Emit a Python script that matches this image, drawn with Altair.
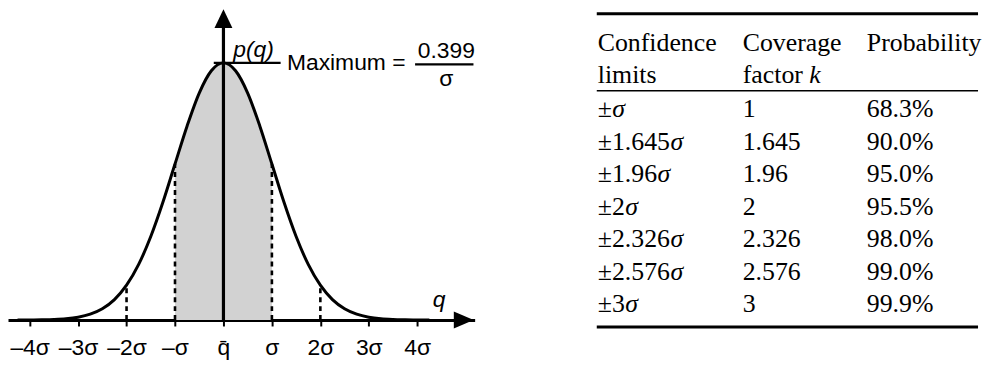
import altair as alt
import pandas as pd

# ---------------- data ----------------
q_pts = [-4.25, -4.0, -3.75, -3.5, -3.25, -3.0, -2.75, -2.5, -2.25, -2.0, -1.75, -1.5,
         -1.25, -1.0, -0.75, -0.5, -0.25, 0.0, 0.25, 0.5, 0.75, 1.0, 1.25, 1.5, 1.75,
         2.0, 2.25, 2.5, 2.75, 3.0, 3.25, 3.5, 3.75, 4.0, 4.25]
p_pts = [0.0000, 0.0001, 0.0004, 0.0009, 0.0020, 0.0044, 0.0091, 0.0175, 0.0317, 0.0540,
         0.0863, 0.1295, 0.1826, 0.2420, 0.3011, 0.3521, 0.3867, 0.3989, 0.3867, 0.3521,
         0.3011, 0.2420, 0.1826, 0.1295, 0.0863, 0.0540, 0.0317, 0.0175, 0.0091, 0.0044,
         0.0020, 0.0009, 0.0004, 0.0001, 0.0000]
tick_pos = [-4, -3, -2, -1, 0, 1, 2, 3, 4]
tick_labels = ["\u20134\u03c3", "\u20133\u03c3", "\u20132\u03c3", "\u2013\u03c3", "q\u0304",
               "\u03c3", "2\u03c3", "3\u03c3", "4\u03c3"]
dash_pos = [-2, -1, 1, 2]
dash_top = [0.0540, 0.2420, 0.2420, 0.0540]
shade_lo, shade_hi = -1, 1
p_max = 0.399

limits_num = ["\u00b1", "\u00b11.645", "\u00b11.96", "\u00b12", "\u00b12.326", "\u00b12.576", "\u00b13"]
coverage = ["1", "1.645", "1.96", "2", "2.326", "2.576", "3"]
probability = ["68.3%", "90.0%", "95.0%", "95.5%", "98.0%", "99.0%", "99.9%"]
headers = ["Confidence\nlimits", "Coverage\nfactor", "Probability"]

# ---------------- layout ----------------
W1, H1 = 470, 313
PX_SIG = 48.8
ORIGIN = 217
PX_P = 649.3
x_dom = [-ORIGIN / PX_SIG, (W1 - ORIGIN) / PX_SIG]
y_top = H1 / PX_P
y_dom = [0, y_top]

SANS = "Liberation Sans"
SERIF = "Liberation Serif"
FS = 23

xs = alt.Scale(domain=x_dom, nice=False, zero=False)
ys = alt.Scale(domain=y_dom, nice=False, zero=False)

label_expr = "[%s][indexof([%s], datum.value)]" % (
    ",".join("'%s'" % t for t in tick_labels), ",".join(str(v) for v in tick_pos))
x_axis = alt.Axis(values=tick_pos, labelExpr=label_expr, title=None, grid=False,
                  domainColor="black", domainWidth=3.2, tickColor="black", tickWidth=2,
                  tickSize=6, labelFont=SANS, labelFontSize=FS, labelColor="black",
                  labelPadding=11, labelFlush=False, labelOverlap=False)


def X(field="q"):
    return alt.X(f"{field}:Q", scale=xs, axis=x_axis, title=None)


def Y(field="p"):
    return alt.Y(f"{field}:Q", scale=ys, axis=None, title=None)


curve_df = pd.DataFrame({"q": q_pts, "p": p_pts})

shade = alt.Chart(curve_df).mark_area(interpolate="monotone", color="#d2d2d2").encode(
    x=X(), y=Y()).transform_filter((alt.datum.q >= shade_lo) & (alt.datum.q <= shade_hi))

dash_df = pd.DataFrame({"q": dash_pos, "p0": [0] * len(dash_pos), "p": dash_top})
dashes = alt.Chart(dash_df).mark_rule(color="black", strokeWidth=2.6, strokeDash=[5, 4]).encode(
    x=X(), y=Y("p0"), y2="p:Q")

curve = alt.Chart(curve_df).mark_line(interpolate="monotone", color="black", strokeWidth=3).encode(
    x=X(), y=Y())

yaxis_df = pd.DataFrame({"q": [0], "p0": [0], "p": [y_top - 0.02]})
yaxis = alt.Chart(yaxis_df).mark_rule(color="black", strokeWidth=3.2).encode(
    x=X(), y=Y("p0"), y2="p:Q")

peak_df = pd.DataFrame({"q": [-0.2], "q2": [1.18], "p": [p_max]})
peak = alt.Chart(peak_df).mark_rule(color="black", strokeWidth=2.2).encode(
    x=X(), x2="q2:Q", y=Y())

frac_df = pd.DataFrame({"q": [3.955], "q2": [5.16], "p": [0.3966]})
frac = alt.Chart(frac_df).mark_rule(color="black", strokeWidth=2.2).encode(
    x=X(), x2="q2:Q", y=Y())

arrow_r_df = pd.DataFrame({"q": [(W1 - ORIGIN - 11) / PX_SIG], "p": [0]})
arrow_r = alt.Chart(arrow_r_df).mark_point(
    shape="M-1,-0.85L1,0L-1,0.85Z", size=400, filled=True, opacity=1,
    color="black", strokeWidth=0).encode(x=X(), y=Y())
arrow_u_df = pd.DataFrame({"q": [0], "p": [y_top - 9.5 / PX_P]})
arrow_u = alt.Chart(arrow_u_df).mark_point(
    shape="M-0.95,1L0,-1L0.95,1Z", size=361, filled=True, opacity=1,
    color="black", strokeWidth=0).encode(x=X(), y=Y())

ann_df = pd.DataFrame({
    "q": [1.31, 4.6, 4.6],
    "p": [p_max, 0.4174, 0.3742],
    "t": ["Maximum =", "0.399", "\u03c3"],
})
ann_left = alt.Chart(ann_df.iloc[[0]]).mark_text(
    font=SANS, fontSize=FS, align="left", baseline="middle", color="black").encode(
    x=X(), y=Y(), text="t:N")
ann_ctr = alt.Chart(ann_df.iloc[[1, 2]]).mark_text(
    font=SANS, fontSize=FS, align="center", baseline="middle", color="black").encode(
    x=X(), y=Y(), text="t:N")

ital_df = pd.DataFrame({"q": [0.62, 4.45], "p": [0.419, 0.031], "t": ["p(q)", "q"]})
ital = alt.Chart(ital_df).mark_text(
    font=SANS, fontSize=FS, fontStyle="italic", align="center", baseline="middle",
    color="black").encode(x=X(), y=Y(), text="t:N")

left = alt.layer(shade, dashes, curve, yaxis, peak, frac, arrow_r, arrow_u,
                 ann_left, ann_ctr, ital).properties(width=W1, height=H1)

# ---------------- table ----------------
W2, H2 = 384, 330
ROW0 = 109.0
ROWH = 32.7
TFS = 26
COL_X = [1, 147, 272]
rs = alt.Scale(domain=[-ROW0 / ROWH, (H2 - ROW0) / ROWH], reverse=True, nice=False, zero=False)


def R(field="row"):
    return alt.Y(f"{field}:Q", scale=rs, axis=None, title=None)


char_w = {"\u00b1": 0.564, ".": 0.25}
for d in "0123456789":
    char_w[d] = 0.5

rows = list(range(len(limits_num)))
body_df = pd.DataFrame({
    "row": rows,
    "lim": limits_num,
    "cov": coverage,
    "prob": probability,
    "sx": [COL_X[0] + sum(char_w[c] for c in s) * TFS for s in limits_num],
    "sig": ["\u03c3"] * len(rows),
})

txt = dict(font=SERIF, fontSize=TFS, align="left", baseline="alphabetic", color="black")
t_lim = alt.Chart(body_df).mark_text(**txt).encode(x=alt.value(COL_X[0]), y=R(), text="lim:N")
t_sig = alt.Chart(body_df).mark_text(fontStyle="italic", **txt).encode(
    x=alt.X("sx:Q", scale=None), y=R(), text="sig:N")
t_cov = alt.Chart(body_df).mark_text(**txt).encode(x=alt.value(COL_X[1]), y=R(), text="cov:N")
t_prob = alt.Chart(body_df).mark_text(**txt).encode(x=alt.value(COL_X[2]), y=R(), text="prob:N")

HEAD_ROW = -2.05
HEAD_LH = 32
head_layers = []
for i, h in enumerate(headers):
    hdf = pd.DataFrame({"row": [HEAD_ROW], "t": [h]})
    head_layers.append(alt.Chart(hdf).mark_text(lineBreak="\n", lineHeight=HEAD_LH, **txt).encode(
        x=alt.value(COL_X[i]), y=R(), text="t:N"))
k_df = pd.DataFrame({"row": [HEAD_ROW + HEAD_LH / ROWH], "t": ["k"]})
k_w = sum({"f": 0.333, "a": 0.444, "c": 0.444, "t": 0.278, "o": 0.5, "r": 0.333, " ": 0.25}[c]
          for c in "factor ") * TFS
t_k = alt.Chart(k_df).mark_text(fontStyle="italic", **txt).encode(
    x=alt.value(COL_X[1] + k_w), y=R(), text="t:N")

thick_df = pd.DataFrame({"row": [(12.5 - 8 - ROW0) / ROWH, (328 - 8 - ROW0) / ROWH]})
thin_df = pd.DataFrame({"row": [(90 - 8 - ROW0) / ROWH]})
thick = alt.Chart(thick_df).mark_rule(color="black", strokeWidth=3).encode(
    x=alt.value(0), x2=alt.value(W2), y=R())
thin = alt.Chart(thin_df).mark_rule(color="black", strokeWidth=1.5).encode(
    x=alt.value(0), x2=alt.value(W2), y=R())

table = alt.layer(thick, thin, *head_layers, t_k, t_lim, t_sig, t_cov, t_prob).properties(
    width=W2, height=H2)

chart = alt.hconcat(left, table, spacing=120).properties(padding=0).configure_view(
    stroke=None)

chart.save("out.html", embed_options={"renderer": "svg", "actions": False})
